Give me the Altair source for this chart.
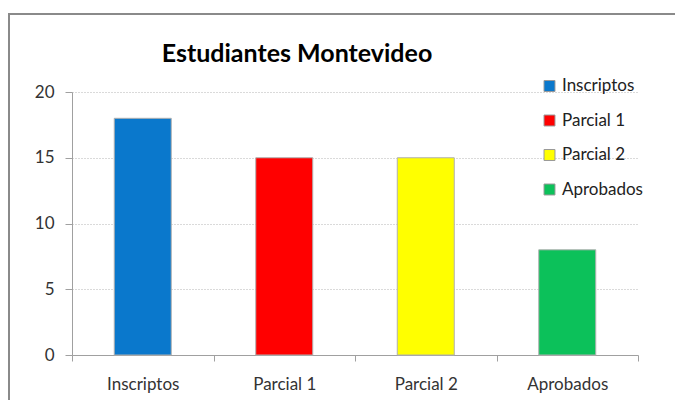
import altair as alt
import pandas as pd

categories = ["Inscriptos", "Parcial 1", "Parcial 2", "Aprobados"]
values = [18, 15, 15, 8]
colors = ["#0A78CC", "#FF0000", "#FFFF00", "#0CC15A"]
title_text = "Estudiantes Montevideo"

df = pd.DataFrame({"categoria": categories, "valor": values})

FONT = "Lato"

border = alt.Chart(pd.DataFrame({"a": [0]})).mark_rect(
    fill="transparent", stroke="#8a8a8a", strokeWidth=2
).encode(
    x=alt.value(-63), x2=alt.value(640), y=alt.value(-78), y2=alt.value(340)
)

title = alt.Chart(pd.DataFrame({"t": [title_text]})).mark_text(
    font=FONT, fontSize=25, fontWeight="bold", color="#000000",
    align="center", baseline="alphabetic"
).encode(
    text="t:N", x=alt.value(225), y=alt.value(-30)
)

bars = alt.Chart(df).mark_bar(size=57, stroke="#b0b0b0", strokeWidth=1).encode(
    x=alt.X("categoria:N", sort=categories,
            scale=alt.Scale(paddingInner=0, paddingOuter=0),
            axis=alt.Axis(title=None, labelAngle=0, tickBand="extent",
                          labelFontSize=17, labelPadding=15, tickSize=6,
                          domainColor="#a0a0a0", tickColor="#a0a0a0",
                          labelColor="#333333", labelFont=FONT, grid=False)),
    y=alt.Y("valor:Q", scale=alt.Scale(domain=[0, 20]),
            axis=alt.Axis(title=None, values=[0, 5, 10, 15, 20], tickSize=7,
                          labelFontSize=17, labelPadding=11, labelColor="#333333",
                          labelFont=FONT, domainColor="#a0a0a0", tickColor="#a0a0a0",
                          gridColor="#b4b4b4", gridDash=[1, 2], gridWidth=1)),
    color=alt.Color("categoria:N", sort=categories,
                    scale=alt.Scale(domain=categories, range=colors),
                    legend=alt.Legend(title=None, orient="none", legendX=469, legendY=-14.5,
                                      symbolType="square", symbolSize=120,
                                      symbolStrokeColor="#999999", symbolStrokeWidth=1,
                                      labelFontSize=17, labelFont=FONT, labelColor="#222222",
                                      rowPadding=16.5, labelOffset=4)),
)

chart = alt.layer(border, title, bars).properties(
    width=566, height=263,
    padding={"left": 64, "top": 84, "right": 37, "bottom": 45},
    autosize=alt.AutoSizeParams(type="none"),
).configure_view(stroke=None)

chart.save("out.html", embed_options={"renderer": "svg", "actions": False})
